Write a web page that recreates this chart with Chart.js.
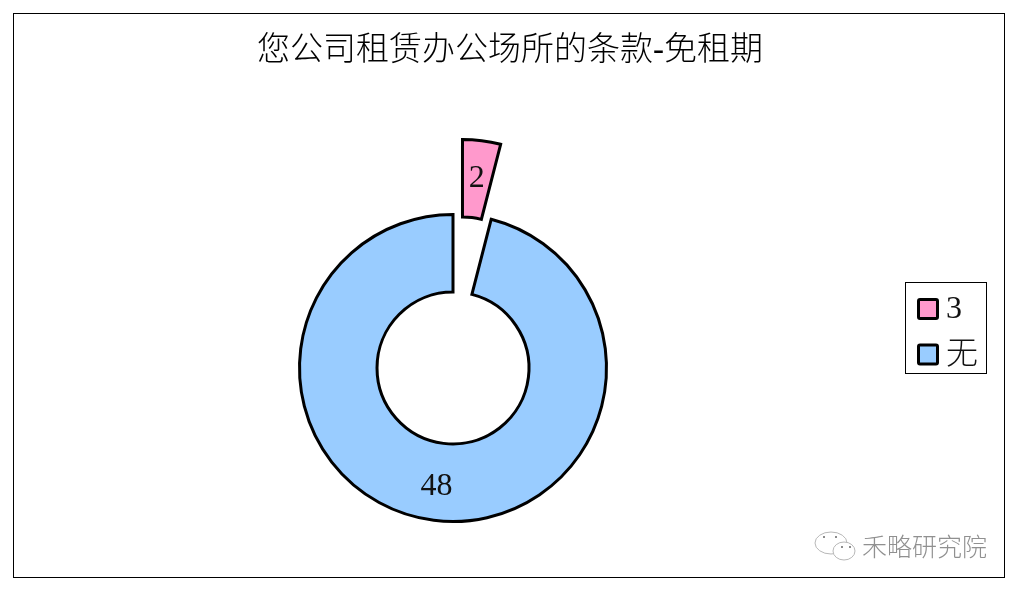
<!DOCTYPE html>
<html>
<head>
<meta charset="utf-8">
<style>
  html, body { margin: 0; padding: 0; background: #fff; }
  canvas { display: block; }
</style>
<script src="https://cdn.jsdelivr.net/npm/chart.js@4/dist/chart.umd.min.js"></script>
</head>
<body>
<canvas id="chart" width="1020" height="591"></canvas>
<script>
const titleText = "您公司租赁办公场所的条款-免租期";
const categories = ["3", "无"];
const counts = [2, 48];
const sliceColors = ["#FF99CC", "#99CCFF"];
const watermark = "禾略研究院";

const explodeDistance = 75.6;
const fontFamily = '"Liberation Serif", "Noto Sans CJK SC", serif';

// outer frame, exploded slice, data labels, legend and watermark
const extras = {
  id: "extras",
  afterLayout(chart) {
    // title stays centred on the whole page, not the padded area
    chart.titleBlock.left = 0;
    chart.titleBlock.right = 1020;
  },
  afterDatasetUpdate(chart) {
    // chart.js offset also grows the slice radius, so push the arc out by hand
    const arc = chart.getDatasetMeta(0).data[0];
    const mid = (arc.startAngle + arc.endAngle) / 2;
    arc.x += Math.cos(mid) * explodeDistance;
    arc.y += Math.sin(mid) * explodeDistance;
  },
  beforeDraw(chart) {
    const c = chart.ctx;
    c.save();
    c.fillStyle = "#fff";
    c.fillRect(0, 0, 1020, 591);
    c.strokeStyle = "#000";
    c.lineWidth = 1;
    c.strokeRect(13.5, 13.5, 991, 564);
    c.restore();
  },
  afterDraw(chart) {
    const c = chart.ctx;
    c.save();

    // values on the slices
    c.fillStyle = "#111";
    c.font = "32px " + fontFamily;
    c.textAlign = "center";
    c.textBaseline = "middle";
    chart.getDatasetMeta(0).data.forEach((arc, i) => {
      const p = arc.getCenterPoint();
      c.fillText(String(counts[i]), p.x - (i === 1 ? 2 : 0), p.y + (i === 1 ? 5 : -1));
    });

    // legend
    c.strokeStyle = "#000";
    c.lineWidth = 1;
    c.strokeRect(905.5, 282.5, 81, 91);
    categories.forEach((name, i) => {
      const y = 309 + i * 45.5;
      c.fillStyle = sliceColors[i];
      c.strokeStyle = "#000";
      c.lineWidth = 3;
      c.beginPath();
      c.roundRect(918.5, y - 9.5, 19, 19, 1.5);
      c.fill();
      c.stroke();
      c.fillStyle = "#111";
      c.font = (i === 0 ? "32px " : "300 32px ") + fontFamily;
      c.textAlign = "left";
      c.textBaseline = "middle";
      c.fillText(name, 946, y + 1);
    });

    // watermark
    c.strokeStyle = "#b8b8b8";
    c.lineWidth = 1;
    c.beginPath();
    c.ellipse(831, 543, 16, 11, 0, 0, Math.PI * 2);
    c.stroke();
    c.fillStyle = "#fff";
    c.beginPath();
    c.ellipse(844, 551, 11, 9, 0, 0, Math.PI * 2);
    c.fill();
    c.stroke();
    c.fillStyle = "#8c8c8c";
    [[823, 536], [835, 536], [841, 546], [849, 546]].forEach(([x, y]) => c.fillRect(x, y, 2, 2));
    c.fillStyle = "#909090";
    c.font = '300 25px "Noto Sans CJK SC", sans-serif';
    c.textAlign = "left";
    c.textBaseline = "middle";
    c.fillText(watermark, 862, 546);
    c.restore();
  }
};

new Chart(document.getElementById("chart"), {
  type: "doughnut",
  data: {
    labels: categories,
    datasets: [{
      data: counts,
      backgroundColor: sliceColors,
      borderColor: "#000",
      borderWidth: 3,
      borderJoinStyle: "miter"
    }]
  },
  options: {
    responsive: false,
    animation: false,
    cutout: "49.5%",
    radius: 153.5,
    layout: { padding: { top: 32, bottom: 55, left: 0, right: 114 } },
    plugins: {
      legend: { display: false },
      tooltip: { enabled: false },
      title: {
        display: true,
        text: titleText,
        color: "#000",
        font: { family: fontFamily, size: 33, weight: "300", lineHeight: 1.2 },
        padding: { top: 0, bottom: 128.4 }
      }
    }
  },
  plugins: [extras]
});
</script>
</body>
</html>
